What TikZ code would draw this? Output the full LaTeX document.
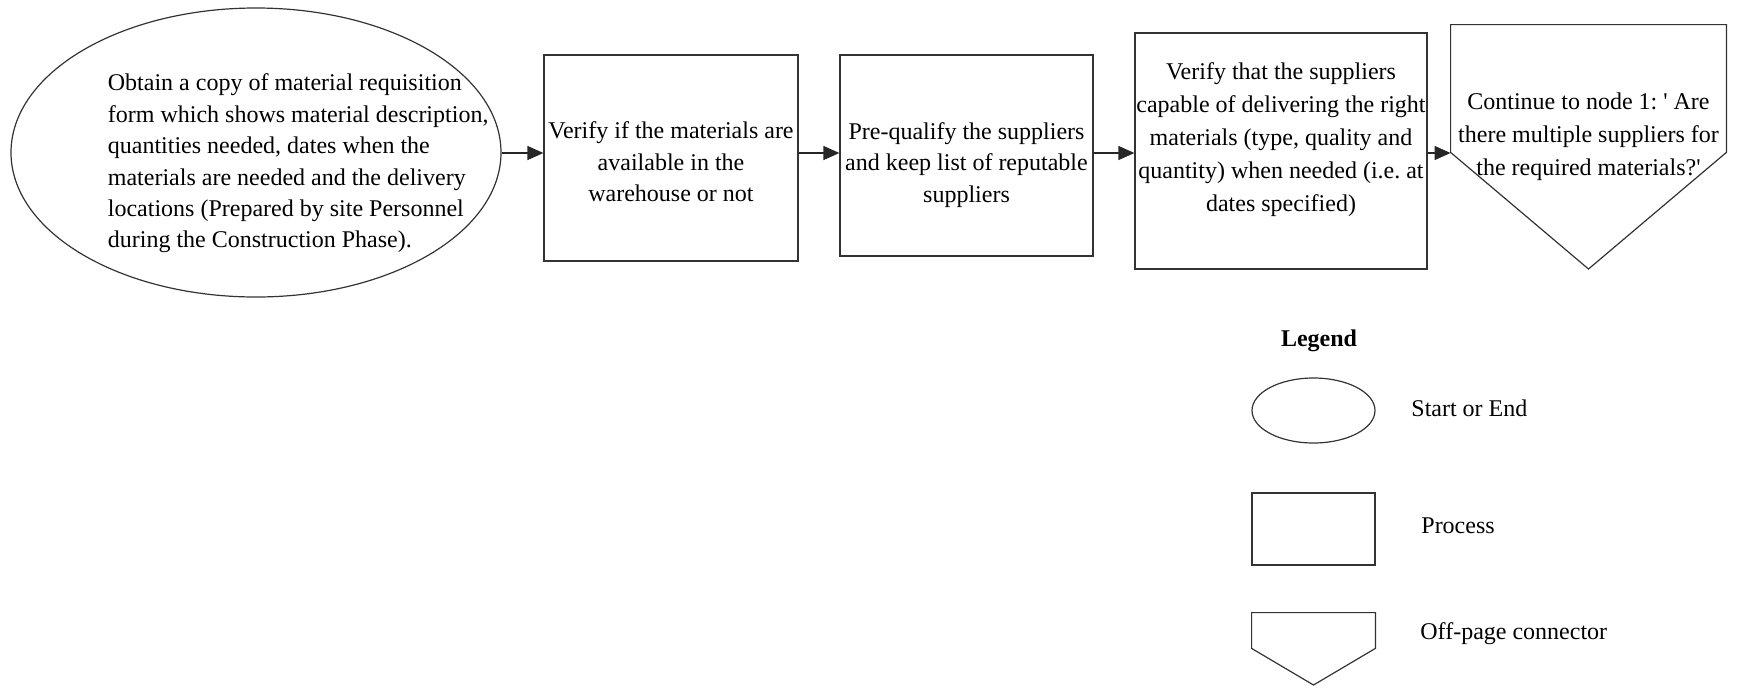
\documentclass[tikz,border=0pt]{standalone}
\usepackage{fontspec}
\setmainfont{Liberation Serif}
\usetikzlibrary{shapes.geometric,arrows.meta}
\frenchspacing
\begin{document}
\begin{tikzpicture}[x=0.5pt,y=-0.5pt,
  outline/.style={draw=black!80,line width=0.6pt},
  term/.style={outline,ellipse,inner sep=0pt},
  procbox/.style={outline,rectangle,inner sep=0pt},
  txt/.style={font=\fontsize{12}{15.7}\selectfont,inner sep=0pt,align=center},
  widetxt/.style={txt,font=\fontsize{12}{16.6}\selectfont},
  legtxt/.style={font=\fontsize{12}{14}\selectfont,inner sep=0pt,anchor=west},
  flow/.style={draw=black!85,line width=0.6pt,-{Triangle[length=8pt,width=7pt]}}]
\useasboundingbox (0,0) rectangle (1737,687);

% main flow
\node[term,minimum width=245pt,minimum height=144.5pt] (start) at (256,152.5) {};
\node[txt,align=left,anchor=west] (starttext) at (107.5,163.5)
  {Obtain a copy of material requisition\\
   form which shows material description,\\
   quantities needed, dates when the\\
   materials are needed and the delivery\\
   locations (Prepared by site Personnel\\
   during the Construction Phase).};

\node[procbox,minimum width=127pt,minimum height=103pt] (check) at (671,158) {};
\node[txt] (checktext) at (671,162)
  {Verify if the materials are\\available in the\\warehouse or not};

\node[procbox,minimum width=126.5pt,minimum height=100.5pt] (prequal) at (966.5,155.5) {};
\node[txt] (prequaltext) at (966.5,165)
  {Pre-qualify the suppliers\\and keep list of reputable\\suppliers};

\node[procbox,minimum width=146pt,minimum height=118pt] (capable) at (1281,151) {};
\node[widetxt] (capabletext) at (1281,139.5)
  {Verify that the suppliers\\capable of delivering the right\\materials (type, quality and\\quantity) when needed (i.e. at\\dates specified)};

% off-page connector
\node[inner sep=0pt,minimum width=137.5pt,minimum height=63.5pt] (offpage) at (1588.5,88.5) {};
\coordinate (offtip) at (1588.5,269);
\draw[outline] (offpage.south west) -- (offpage.north west) -- (offpage.north east)
  -- (offpage.south east) -- (offtip) -- cycle;
\node[widetxt] (offtext) at (1588.5,136.5)
  {Continue to node 1: \textquotesingle{} Are\\there multiple suppliers for\\the required materials?\textquotesingle};

% connectors
\coordinate (row) at (0,153);
\draw[flow] (start.east |- row) -- (check.west |- row);
\draw[flow] (check.east |- row) -- (prequal.west |- row);
\draw[flow] (prequal.east |- row) -- (capable.west |- row);
\draw[flow] (capable.east |- row) -- (offpage.west |- row);

% legend
\node[txt,font=\fontsize{12}{14}\selectfont\bfseries] (legend) at (1319,341) {Legend};

\node[term,minimum width=61.5pt,minimum height=32.5pt] (legterm) at (1313.5,410.5) {};
\node[legtxt] (legtermtext) at (1411,408) {Start or End};

\node[procbox,minimum width=61.5pt,minimum height=36pt] (legproc) at (1313.5,529) {};
\node[legtxt] (legproctext) at (1421,526) {Process};

\node[inner sep=0pt,minimum width=61.5pt,minimum height=17.5pt] (legoff) at (1313.5,630.5) {};
\coordinate (legofftip) at (1313.5,685);
\draw[outline] (legoff.south west) -- (legoff.north west) -- (legoff.north east)
  -- (legoff.south east) -- (legofftip) -- cycle;
\node[legtxt] (legofftext) at (1420,633.5) {Off-page connector};
\end{tikzpicture}
\end{document}
